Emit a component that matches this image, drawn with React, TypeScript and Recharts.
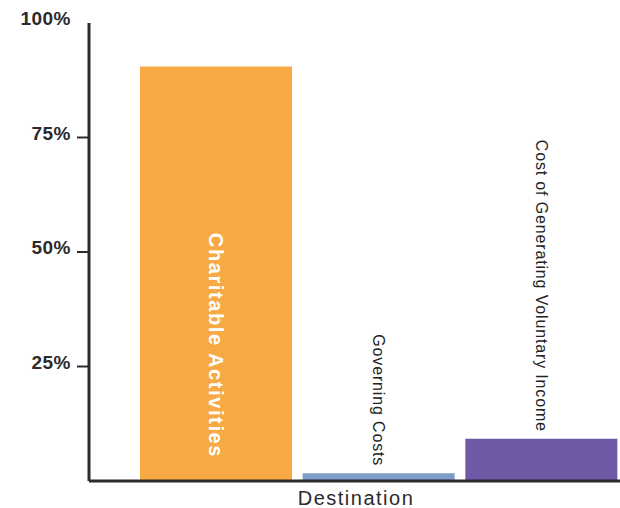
import React from "react";
import { Bar, BarChart, Cell, LabelList, XAxis, YAxis } from "recharts";

// share of spending by destination (%)
const categories = ["Charitable Activities", "Governing Costs", "Cost of Generating Voluntary Income"];
const shares = [90.5, 1.7, 9.2];
const barColors = ["#F7AA43", "#7F9CC9", "#6F58A5"];
const yTicks = [25, 50, 75, 100];
const xTitle = "Destination";

const data = categories.map((name, i) => ({ name, share: shares[i] }));

const font = "'Liberation Sans', Arial, sans-serif";
const ink = "#2b2a2c";

function YTick(props: any) {
  const { x, y, payload } = props;
  const axisX = x + 18;
  return (
    <g>
      {payload.value !== 100 && (
        <line x1={axisX - 12} x2={axisX} y1={y} y2={y} stroke={ink} strokeWidth={2} />
      )}
      <text
        x={x}
        y={y + 2}
        textAnchor="end"
        fontFamily={font}
        fontWeight="bold"
        fontSize={19}
        letterSpacing={0.5}
        fill={ink}
      >
        {payload.value}%
      </text>
    </g>
  );
}

function BarLabel(props: any) {
  const { x, y, width, height, value } = props;
  const cx = x + width / 2;
  const inside = height > 300;
  const ty = inside ? y + height - 23 : y - 7;
  return (
    <text
      x={cx}
      y={ty}
      transform={`rotate(90 ${cx} ${ty})`}
      textAnchor="end"
      dominantBaseline="central"
      fontFamily={font}
      fontWeight={inside ? "bold" : "normal"}
      fontSize={inside ? 20 : 16}
      letterSpacing={inside ? 1.6 : 0.85}
      fill={inside ? "#ffffff" : "#222222"}
    >
      {value}
    </text>
  );
}

export default function App() {
  return (
    <div style={{ position: "absolute", left: 0, top: 0, width: 620, height: 508, overflow: "hidden", background: "#fff" }}>
      <BarChart width={623} height={508} data={data} margin={{ top: 23, right: 0, bottom: 0, left: 0 }}>
        <XAxis
          dataKey="name"
          height={27}
          padding={{ left: 46, right: 0 }}
          tick={false}
          tickLine={false}
          axisLine={{ stroke: ink, strokeWidth: 3 }}
          label={{
            value: xTitle,
            position: "insideBottom",
            offset: 3,
            fill: ink,
            fontSize: 20,
            fontFamily: font,
            letterSpacing: 1.5,
          }}
        />
        <YAxis
          width={89}
          domain={[0, 100]}
          ticks={yTicks}
          interval={0}
          tickSize={12}
          tickMargin={6}
          tickLine={false}
          axisLine={{ stroke: ink, strokeWidth: 3 }}
          tick={<YTick />}
        />
        <Bar dataKey="share" barSize={152} isAnimationActive={false}>
          {data.map((d, i) => (
            <Cell key={d.name} fill={barColors[i]} />
          ))}
          <LabelList dataKey="name" content={<BarLabel />} />
        </Bar>
      </BarChart>
    </div>
  );
}
